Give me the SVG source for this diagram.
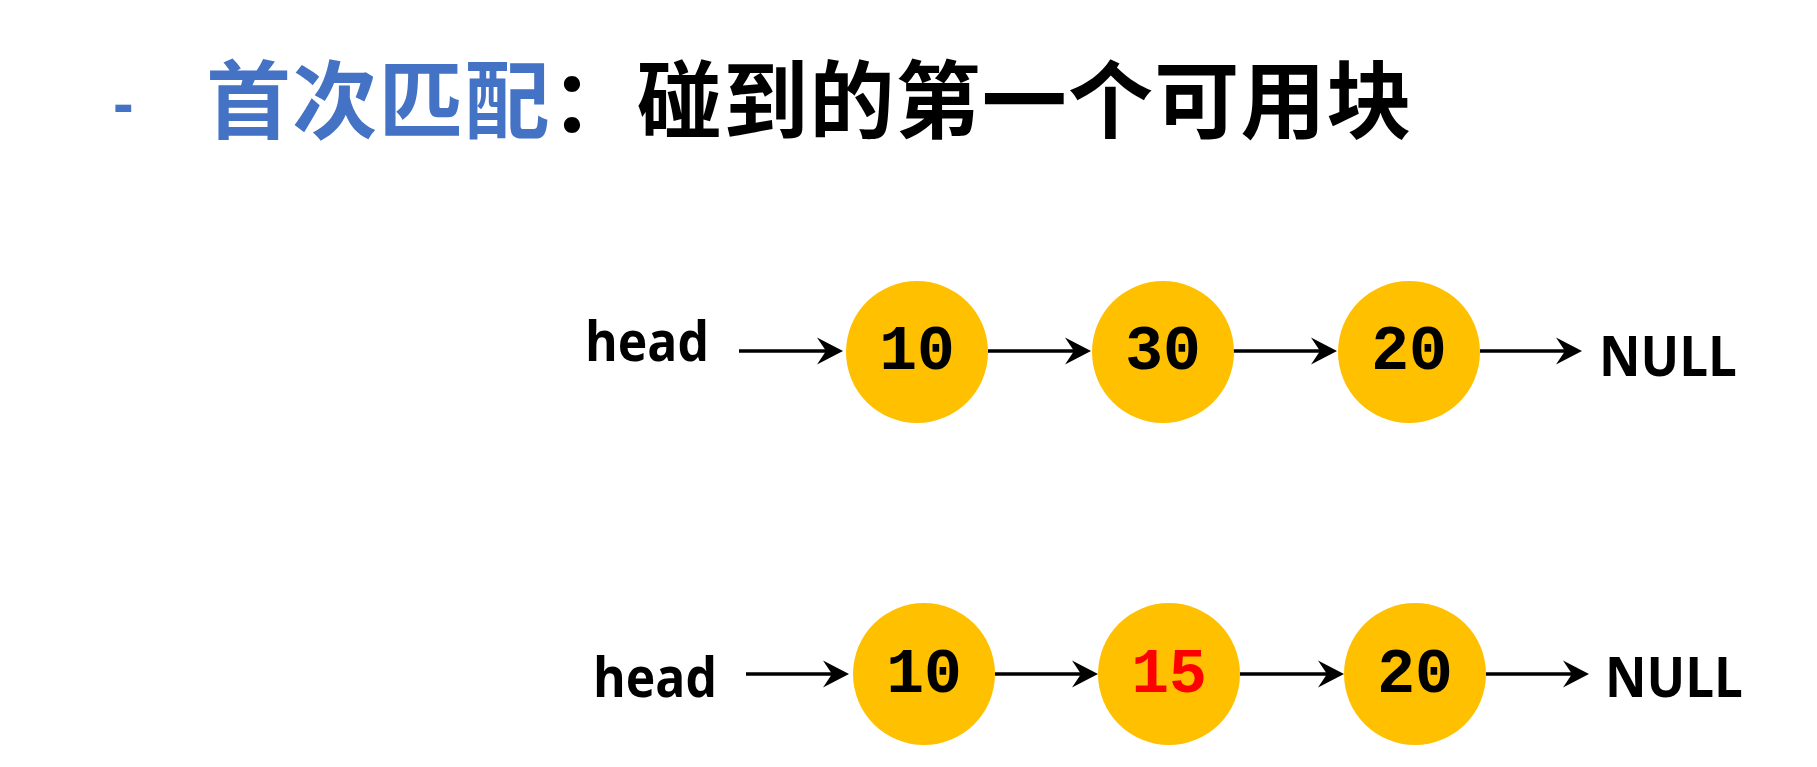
<svg xmlns="http://www.w3.org/2000/svg" width="1817" height="767" viewBox="0 0 1817 767">
<style>
.title{font-family:"Noto Sans CJK SC","Noto Sans",sans-serif;font-weight:bold;font-size:85px;letter-spacing:1.2px}
.lbl{font-family:"Open Sans","Noto Sans",sans-serif;font-weight:bold;font-size:55px;fill:#000}
.num{font-family:"Liberation Mono","Courier New",monospace;font-weight:bold;font-size:63px;text-anchor:middle;fill:#000}
.node{fill:#FFC000}
.conn{stroke:#000;stroke-width:3.5;fill:none;marker-end:url(#ah)}
</style>
<defs>
<marker id="ah" viewBox="-30 -15 32 30" refX="-14" refY="0" markerWidth="32" markerHeight="30" markerUnits="userSpaceOnUse" orient="auto">
<path d="M0,0 L-26,-13.5 L-17,0 L-26,13.5 Z" fill="#000"/>
</marker>
</defs>
<rect width="1817" height="767" fill="#fff"/>
<g id="title">
<text x="113" y="124" style="font-family:'Liberation Sans',sans-serif;font-weight:bold;font-size:62px" fill="#4472C4">-</text>
<text x="206" y="132" class="title"><tspan fill="#4472C4">首次匹配</tspan><tspan fill="#000">：碰到的第一个可用块</tspan></text>
</g>
<g id="connectors">
<line class="conn" x1="739" y1="351" x2="829" y2="351"/>
<line class="conn" x1="988" y1="351" x2="1077" y2="351"/>
<line class="conn" x1="1233" y1="351" x2="1323" y2="351"/>
<line class="conn" x1="1480" y1="351" x2="1568" y2="351"/>
<line class="conn" x1="746" y1="674" x2="835" y2="674"/>
<line class="conn" x1="995" y1="674" x2="1084" y2="674"/>
<line class="conn" x1="1240" y1="674" x2="1330" y2="674"/>
<line class="conn" x1="1486" y1="674" x2="1575" y2="674"/>
</g>
<g id="head1"><text class="lbl" x="585" y="361" textLength="124" lengthAdjust="spacingAndGlyphs">head</text></g>
<g id="n1_10"><circle class="node" cx="917" cy="352" r="71"/><text class="num" x="917" y="369">10</text></g>
<g id="n1_30"><circle class="node" cx="1163" cy="352" r="71"/><text class="num" x="1163" y="369">30</text></g>
<g id="n1_20"><circle class="node" cx="1409" cy="352" r="71"/><text class="num" x="1409" y="369">20</text></g>
<g id="null1"><text class="lbl" x="1599" y="376" textLength="138" lengthAdjust="spacingAndGlyphs">NULL</text></g>
<g id="head2"><text class="lbl" x="593" y="697" textLength="124" lengthAdjust="spacingAndGlyphs">head</text></g>
<g id="n2_10"><circle class="node" cx="924" cy="674" r="71"/><text class="num" x="924" y="692">10</text></g>
<g id="n2_15"><circle class="node" cx="1169" cy="674" r="71"/><text class="num" x="1169" y="692" style="fill:#FF0000">15</text></g>
<g id="n2_20"><circle class="node" cx="1415" cy="674" r="71"/><text class="num" x="1415" y="692">20</text></g>
<g id="null2"><text class="lbl" x="1605" y="697" textLength="138" lengthAdjust="spacingAndGlyphs">NULL</text></g>
</svg>
